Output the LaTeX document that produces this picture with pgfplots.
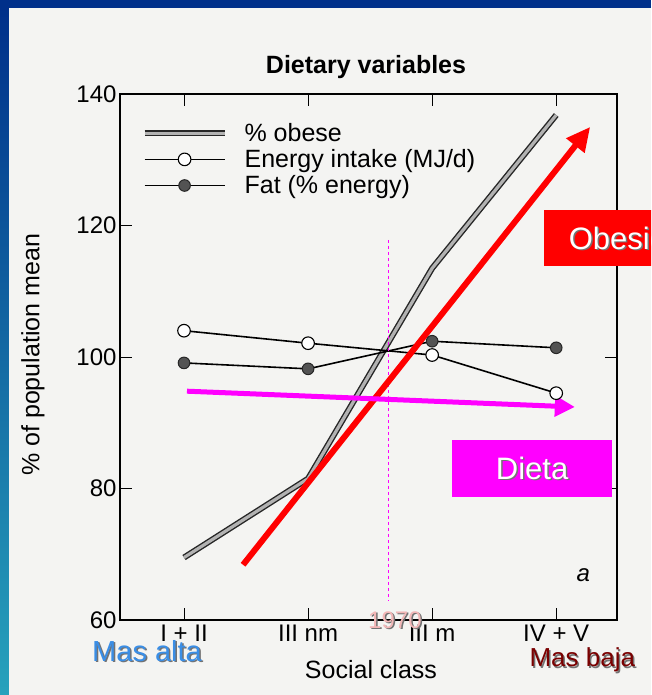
\documentclass[border=0pt]{standalone}
\usepackage{pgfplots}
\pgfplotsset{compat=1.18}
\usepackage{fontspec}
\setmainfont{Liberation Sans}
\usetikzlibrary{arrows.meta}
\definecolor{navy}{HTML}{00308A}
\definecolor{tealb}{HTML}{27A2BC}
\definecolor{paper}{HTML}{F4F4F2}
\definecolor{altablue}{HTML}{3A8EE6}
\definecolor{bajared}{HTML}{7A0000}
\definecolor{pinky}{HTML}{F2B6B6}
\definecolor{mag}{HTML}{FF00FF}
\definecolor{rd}{HTML}{FF0000}
\pgfplotstableread{
x obese energy fat
0 69.5 104.0 99.1
1 81.5 102.1 98.2
2 113.5 100.3 102.4
3 136.8 94.5 101.4
}\datatable
\newcommand{\shadowtext}[4]{% pos, color, size, text
  \node[text=black!55,font=\fontsize{#3}{#3}\selectfont] at ([xshift=1.5pt,yshift=-1.5pt]#1) {#4};
  \node[text=#2,font=\fontsize{#3}{#3}\selectfont] at (#1) {#4};}
\begin{document}
\begin{tikzpicture}[x=1pt,y=1pt]
\clip (-120,-75) rectangle (531,620);
\fill[navy] (-120,-75) rectangle (531,620);
\fill[paper] (-111,-75) rectangle (531,612);
\shade[top color=navy,bottom color=tealb] (-120,-75) rectangle (-111,612);
\begin{axis}[
  at={(0,0)}, anchor=south west,
  scale only axis, width=497pt, height=526pt,
  xmin=-0.516, xmax=3.49, ymin=60, ymax=140,
  xtick={0,1,2,3}, xticklabels={I + II, III nm, III m, IV + V},
  ytick={60,80,100,120,140},
  tick align=inside, major tick length=12pt,
  tick style={black, line width=0.9pt},
  axis line style={black, line width=1.3pt},
  /pgf/number format/assume math mode=true,
  tick label style={font=\fontsize{24}{24}\selectfont},
  xticklabel style={yshift=-1pt},
  clip=false,
  legend style={at={(rel axis cs:0.037,0.952)}, anchor=north west, draw=none, fill=none,
    font=\fontsize{25}{28.5}\selectfont, row sep=2.5pt},
  legend cell align=left,
  legend image code/.code={\draw[#1,mark repeat=2,mark phase=2] plot coordinates {(0pt,0pt) (40pt,0pt) (80pt,0pt)};\path (95pt,0pt);},
]
\addplot[draw=black!85, line width=1.4pt, double=gray!60, double distance=3.2pt, mark=none] table[x=x,y=obese] {\datatable};
\addlegendentry{\% obese}
\addplot[black, line width=1.6pt, mark=*, mark size=6.3pt, mark options={fill=white, line width=1.1pt}] table[x=x,y=energy] {\datatable};
\addlegendentry{Energy intake (MJ/d)}
\addplot[black, line width=1.6pt, mark=*, mark size=5.8pt, mark options={fill=gray!65!black, draw=black!85, line width=1pt}] table[x=x,y=fat] {\datatable};
\addlegendentry{Fat (\% energy)}
% annotations
\draw[mag, dashed, line width=0.8pt] (axis cs:1.645,117.8) -- (axis cs:1.645,63);
\draw[rd, line width=6pt, -{Triangle[length=24pt,width=22pt]}] (axis cs:0.476,68.4) -- (axis cs:3.274,135.0);
\draw[mag, line width=5pt, -{Triangle[length=20pt,width=20pt]}] (axis cs:0.024,94.8) -- (axis cs:3.15,92.4);
\fill[rd] (axis cs:2.903,122.4) rectangle (axis cs:3.9,113.8);
\fill[mag] (axis cs:2.161,87.4) rectangle (axis cs:3.452,78.7);
\node[text=black!55,font=\fontsize{31}{31}\selectfont,anchor=west,inner sep=0pt] at ([xshift=1.5pt,yshift=-1.5pt]axis cs:3.10,118.1) {Obesidad};
\node[text=white,font=\fontsize{31}{31}\selectfont,anchor=west,inner sep=0pt] at (axis cs:3.10,118.1) {Obesidad};
\shadowtext{axis cs:2.806,83.1}{white}{31}{Dieta}
\node[font=\fontsize{24}{24}\selectfont\itshape] at (axis cs:3.218,66.8) {a};
\shadowtext{axis cs:1.70,60.0}{pinky}{24}{1970}
\shadowtext{axis cs:-0.298,55.3}{altablue}{29}{Mas alta}
\shadowtext{axis cs:3.21,53.9}{bajared}{26}{Mas baja}
\node[font=\fontsize{25}{25}\selectfont\bfseries] at (rel axis cs:0.495,1.051) {Dietary variables};
\node[font=\fontsize{25}{25}\selectfont] at (rel axis cs:0.505,-0.095) {Social class};
\node[font=\fontsize{25}{25}\selectfont, rotate=90] at (rel axis cs:-0.175,0.504) {\% of population mean};
\end{axis}
\end{tikzpicture}
\end{document}
